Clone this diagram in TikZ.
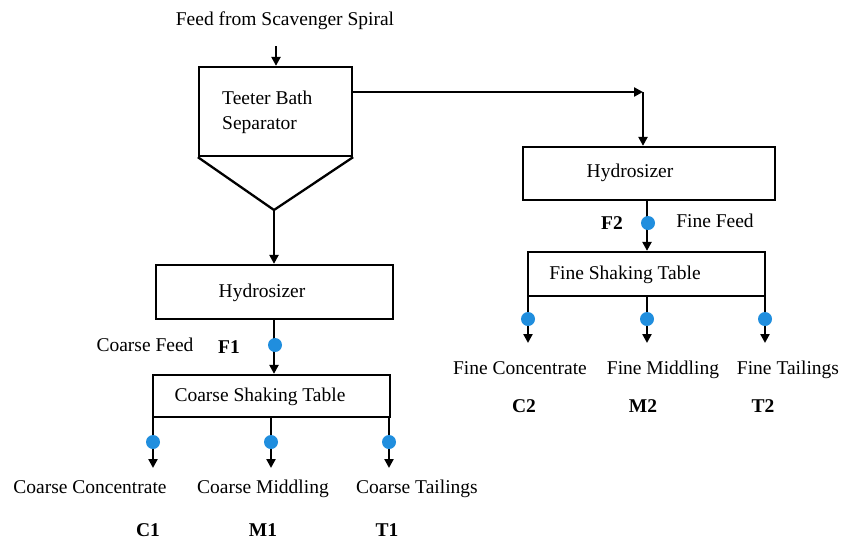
\documentclass[tikz,border=0pt]{standalone}
\usepackage{fontspec}
\setmainfont{Liberation Serif}
\usetikzlibrary{arrows.meta}
\definecolor{dotblue}{RGB}{32,142,222}
\tikzset{
  x=1pt, y=-1pt,
  flow/.style={line width=2.3pt, draw=black},
  arr/.style={flow, -{Triangle[length=9pt,width=9pt]}},
  unitbox/.style={draw=black, line width=2.3pt, inner sep=0pt},
  txt/.style={inner sep=0pt, text height=13pt, text depth=2pt, font=\fontsize{19.5}{25}\selectfont},
  code/.style={txt, font=\fontsize{19.5}{25}\selectfont\bfseries},
  sample/.style={circle, fill=dotblue, draw=none, minimum size=14pt, inner sep=0pt}
}
\begin{document}
\begin{tikzpicture}
\useasboundingbox (0,0) rectangle (844,542);

% ---------- feed and teeter bath separator ----------
\node[txt] (feedtxt) at (285,20) {Feed from Scavenger Spiral};
\coordinate (feedin) at (276,46);
\node[unitbox, minimum width=153pt, minimum height=89pt] (tbs) at (275.5,111.5) {};
\node[txt, text height=, text depth=, align=left, anchor=west] (tbstxt) at (222,112.5) {Teeter Bath\\Separator};
\coordinate (apex) at (274,210);
\draw[flow, line join=round] (tbs.south west) -- (apex) -- (tbs.south east);
\draw[arr] (feedin) -- (feedin |- tbs.north);

% ---------- coarse branch ----------
\node[unitbox, minimum width=237pt, minimum height=54pt] (hyd1) at (274.5,292) {};
\node[txt] (hyd1txt) at (262,292) {Hydrosizer};
\draw[arr] (apex) -- (apex |- hyd1.north);

\node[unitbox, minimum width=237pt, minimum height=42pt] (cst) at (271.5,396) {};
\node[txt] (csttxt) at (260,396) {Coarse Shaking Table};
\coordinate (f1top) at (274,319);
\draw[arr] (f1top) -- (f1top |- cst.north);
\node[sample] (f1) at (275,345) {};
\node[code] (f1lbl) at (229,348) {F1};
\node[txt] (cfeed) at (145,346) {Coarse Feed};

\coordinate (c1top) at (153,417);
\coordinate (m1top) at (271,417);
\coordinate (t1top) at (389,417);
\coordinate (c1end) at (153,468);
\coordinate (m1end) at (271,468);
\coordinate (t1end) at (389,468);
\draw[arr] (c1top) -- (c1end);
\draw[arr] (m1top) -- (m1end);
\draw[arr] (t1top) -- (t1end);
\node[sample] (c1dot) at (153,442) {};
\node[sample] (m1dot) at (271,442) {};
\node[sample] (t1dot) at (389,442) {};
\node[txt] (c1txt) at (90,488) {Coarse Concentrate};
\node[txt] (m1txt) at (263,488) {Coarse Middling};
\node[txt] (t1txt) at (417,488) {Coarse Tailings};
\node[code] (c1) at (148,531) {C1};
\node[code] (m1) at (263,531) {M1};
\node[code] (t1) at (387,531) {T1};

% ---------- fine branch ----------
\node[unitbox, minimum width=252pt, minimum height=53pt] (hyd2) at (649,173.5) {};
\node[txt] (hyd2txt) at (630,172) {Hydrosizer};
\coordinate (split) at (643,92);
\draw[arr] (tbs.east |- split) -- (split);
\draw[arr] (split) -- (split |- hyd2.north);

\node[unitbox, minimum width=237pt, minimum height=44pt] (fst) at (646.5,274) {};
\node[txt] (fsttxt) at (625,274) {Fine Shaking Table};
\coordinate (f2top) at (647,200);
\draw[arr] (f2top) -- (f2top |- fst.north);
\node[sample] (f2) at (648,223) {};
\node[code] (f2lbl) at (612,224) {F2};
\node[txt] (ffeed) at (715,222) {Fine Feed};

\coordinate (c2top) at (528,296);
\coordinate (m2top) at (647,296);
\coordinate (t2top) at (765,296);
\coordinate (c2end) at (528,343);
\coordinate (m2end) at (647,343);
\coordinate (t2end) at (765,343);
\draw[arr] (c2top) -- (c2end);
\draw[arr] (m2top) -- (m2end);
\draw[arr] (t2top) -- (t2end);
\node[sample] (c2dot) at (528,319) {};
\node[sample] (m2dot) at (647,319) {};
\node[sample] (t2dot) at (765,319) {};
\node[txt] (c2txt) at (520,369) {Fine Concentrate};
\node[txt] (m2txt) at (663,369) {Fine Middling};
\node[txt] (t2txt) at (788,369) {Fine Tailings};
\node[code] (c2) at (524,407) {C2};
\node[code] (m2) at (643,407) {M2};
\node[code] (t2) at (763,407) {T2};
\end{tikzpicture}
\end{document}
